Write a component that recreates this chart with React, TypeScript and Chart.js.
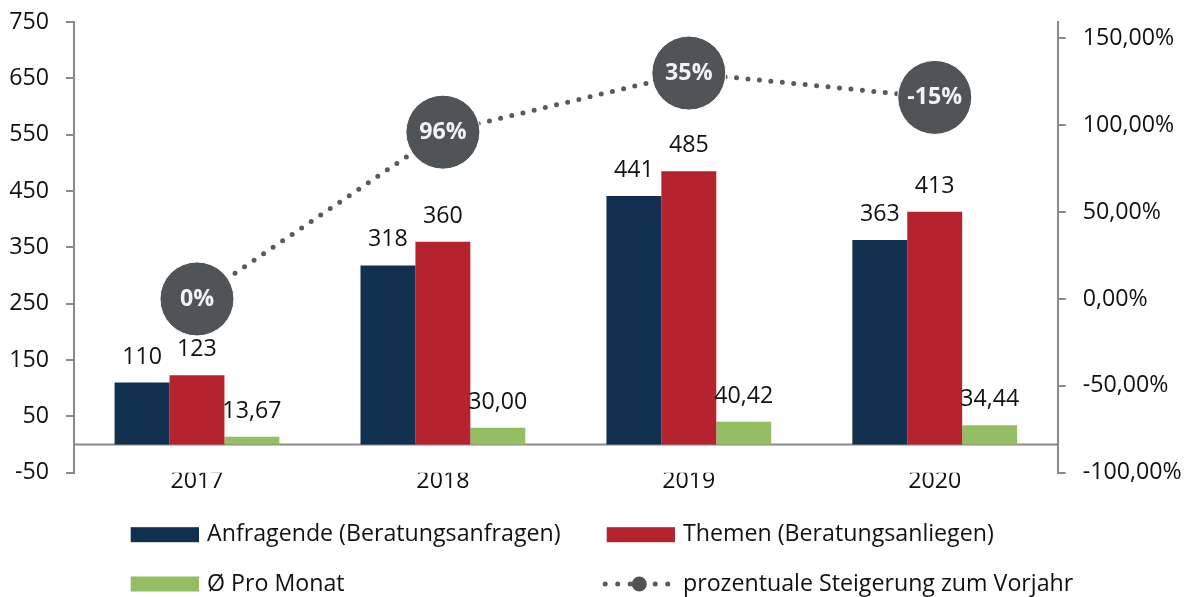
import React, { useEffect, useRef } from 'react';
import { Chart, registerables } from 'chart.js';

Chart.register(...registerables);

const categories = ['2017', '2018', '2019', '2020'];
const anfragende = [110, 318, 441, 363];
const themen = [123, 360, 485, 413];
const proMonat = [13.67, 30.0, 40.42, 34.44];
const steigerungPosition = [0, 96, 130, 116];
const steigerungLabels = ['0%', '96%', '35%', '-15%'];
const leftTicks = [-50, 50, 150, 250, 350, 450, 550, 650, 750];
const rightTicks = [-100, -50, 0, 50, 100, 150];
const seriesNames = [
  'Anfragende (Beratungsanfragen)',
  'Themen (Beratungsanliegen)',
  'Ø Pro Monat',
  'prozentuale Steigerung zum Vorjahr',
];

const FONT = '"Open Sans"';
const FS = 23.2;
const AXIS_GREY = '#898989';
const TEXT = '#111111';

const fmtDe = (v: number, d: number) => v.toFixed(d).replace('.', ',');

const zeroLinePlugin = {
  id: 'zeroLine',
  beforeDatasetsDraw(chart: any) {
    const { ctx, chartArea, scales } = chart;
    const y = scales.y.getPixelForValue(0);
    ctx.save();
    ctx.strokeStyle = AXIS_GREY;
    ctx.lineWidth = 2;
    ctx.beginPath();
    ctx.moveTo(chartArea.left, y);
    ctx.lineTo(chartArea.right, y);
    ctx.stroke();
    ctx.restore();
  },
};

const labelPlugin = {
  id: 'valueLabels',
  afterDatasetsDraw(chart: any) {
    const { ctx } = chart;
    ctx.save();
    chart.data.datasets.forEach((ds: any, i: number) => {
      const meta = chart.getDatasetMeta(i);
      meta.data.forEach((el: any, j: number) => {
        if (ds.type === 'line') {
          ctx.font = `bold ${FS}px ${FONT}`;
          ctx.fillStyle = '#f2f2f2';
          ctx.textAlign = 'center';
          ctx.textBaseline = 'middle';
          ctx.fillText(steigerungLabels[j], el.x, el.y);
        } else {
          const v = ds.data[j];
          const txt = ds.decimals ? fmtDe(v, ds.decimals) : String(v);
          ctx.font = `${FS}px ${FONT}`;
          ctx.fillStyle = TEXT;
          ctx.textAlign = 'center';
          ctx.textBaseline = 'alphabetic';
          ctx.fillText(txt, el.x, el.y - 19);
        }
      });
    });
    ctx.restore();
  },
};

const legendPlugin = {
  id: 'gridLegend',
  afterDraw(chart: any) {
    const { ctx } = chart;
    const ds = chart.data.datasets;
    const cols = [130.7, 606.7];
    const rows = [534.7, 584];
    const boxW = 68.3;
    const boxH = 15;
    ctx.save();
    ctx.font = `${FS}px ${FONT}`;
    ctx.textBaseline = 'middle';
    ctx.textAlign = 'left';
    ds.forEach((d: any, i: number) => {
      const x = cols[i % 2];
      const y = rows[Math.floor(i / 2)];
      if (d.type === 'line') {
        ctx.save();
        ctx.strokeStyle = d.borderColor;
        ctx.lineWidth = 5;
        ctx.lineCap = 'round';
        ctx.setLineDash([0, 12.5]);
        ctx.beginPath();
        ctx.moveTo(x - 1.5, y);
        ctx.lineTo(x + 66, y);
        ctx.stroke();
        ctx.restore();
        ctx.beginPath();
        ctx.fillStyle = d.pointBackgroundColor;
        ctx.arc(x + 32.6, y, 7.5, 0, Math.PI * 2);
        ctx.fill();
      } else {
        ctx.fillStyle = d.backgroundColor;
        ctx.fillRect(x, y - boxH / 2, boxW, boxH);
      }
      ctx.fillStyle = TEXT;
      ctx.fillText(d.label, x + 76.3, y);
    });
    ctx.restore();
  },
};

export default function App() {
  const ref = useRef<HTMLCanvasElement | null>(null);

  useEffect(() => {
    if (!ref.current) return;
    document.body.style.margin = '0';
    Chart.defaults.font.family = FONT;
    Chart.defaults.color = TEXT;
    const chart = new Chart(ref.current, {
      type: 'bar',
      data: {
        labels: categories,
        datasets: [
          {
            type: 'bar',
            label: seriesNames[0],
            data: anfragende,
            backgroundColor: '#11304f',
            yAxisID: 'y',
            order: 1,
            categoryPercentage: 0.67,
            barPercentage: 1,
          },
          {
            type: 'bar',
            label: seriesNames[1],
            data: themen,
            backgroundColor: '#b4232e',
            yAxisID: 'y',
            order: 1,
            categoryPercentage: 0.67,
            barPercentage: 1,
          },
          {
            type: 'bar',
            label: seriesNames[2],
            data: proMonat,
            backgroundColor: '#93be63',
            yAxisID: 'y',
            order: 1,
            categoryPercentage: 0.67,
            barPercentage: 1,
            decimals: 2,
          },
          {
            type: 'line',
            label: seriesNames[3],
            data: steigerungPosition,
            yAxisID: 'y1',
            order: 0,
            borderColor: '#5a5a5a',
            borderWidth: 5,
            borderDash: [0, 11.5],
            borderCapStyle: 'round',
            tension: 0,
            pointRadius: 37,
            pointHoverRadius: 37,
            pointBackgroundColor: '#505456',
            pointBorderColor: '#ffffff',
            pointBorderWidth: 1,
          },
        ] as any,
      },
      options: {
        responsive: false,
        animation: false,
        devicePixelRatio: 1,
        events: [],
        layout: { autoPadding: false, padding: { top: 22, bottom: 94.3, left: 0, right: 0 } },
        plugins: {
          legend: { display: false },
          tooltip: { enabled: false },
          title: { display: false },
        },
        scales: {
          x: {
            grid: { display: false, drawTicks: false },
            border: { display: false },
            ticks: { font: { size: FS, family: FONT }, color: TEXT, padding: -5 },
            afterFit: (s: any) => {
              s.height = 30;
              s.paddingLeft = 0;
              s.paddingRight = 0;
            },
          },
          y: {
            position: 'left',
            min: -50,
            max: 750,
            afterBuildTicks: (s: any) => {
              s.ticks = leftTicks.map((v) => ({ value: v }));
            },
            ticks: {
              font: { size: FS, family: FONT },
              color: TEXT,
              padding: 17,
              callback: (v: any) => String(v),
            },
            grid: {
              display: true,
              drawOnChartArea: false,
              drawTicks: true,
              tickLength: 8,
              color: AXIS_GREY,
              lineWidth: 2,
            },
            border: { display: true, color: AXIS_GREY, width: 2 },
            afterFit: (s: any) => {
              s.width = 74;
              s.paddingTop = 0;
              s.paddingBottom = 0;
            },
          },
          y1: {
            position: 'right',
            min: -100,
            max: 159.4,
            afterBuildTicks: (s: any) => {
              s.ticks = rightTicks.map((v) => ({ value: v }));
            },
            ticks: {
              font: { size: FS, family: FONT },
              color: TEXT,
              padding: 17,
              callback: (v: any) => fmtDe(Number(v), 2) + '%',
            },
            grid: {
              display: true,
              drawOnChartArea: false,
              drawTicks: true,
              tickLength: 8,
              color: AXIS_GREY,
              lineWidth: 2,
            },
            border: { display: true, color: AXIS_GREY, width: 2 },
            afterFit: (s: any) => {
              s.width = 135.3;
              s.paddingTop = 0;
              s.paddingBottom = 0;
            },
          },
        },
      } as any,
      plugins: [zeroLinePlugin, labelPlugin, legendPlugin],
    });
    return () => chart.destroy();
  }, []);

  return (
    <canvas
      ref={ref}
      width={1193}
      height={597}
      style={{ display: 'block', width: 1193, height: 597 }}
    />
  );
}
